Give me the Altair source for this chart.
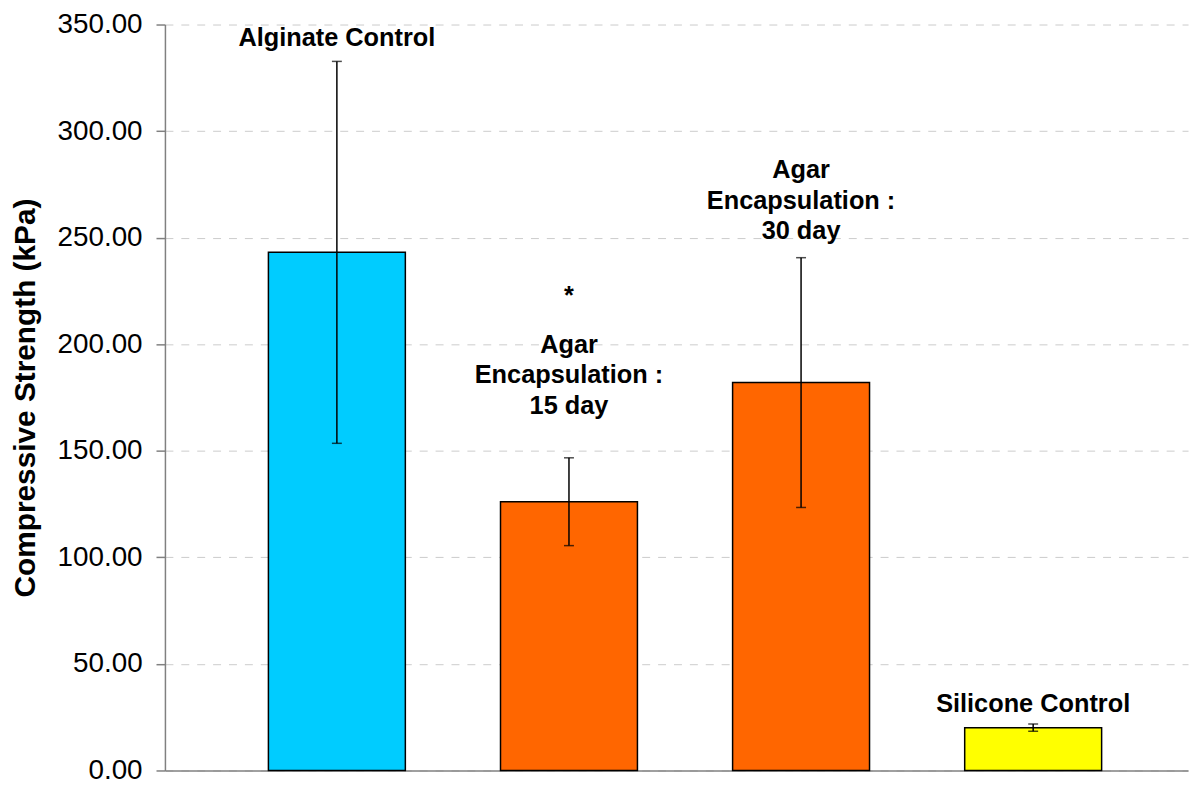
import altair as alt
import pandas as pd

categories = ["Alginate Control", "Agar Encapsulation : 15 day",
              "Agar Encapsulation : 30 day", "Silicone Control"]
means = [243.1, 126.1, 182.0, 20.1]
errors = [89.6, 20.6, 58.6, 1.7]
colors = ["#00CCFF", "#FF6600", "#FF6600", "#FFFF00"]

label_texts = ["Alginate Control", "*", "Agar\nEncapsulation :\n15 day",
               "Agar\nEncapsulation :\n30 day", "Silicone Control"]
label_cats = [categories[0], categories[1], categories[1], categories[2], categories[3]]
label_vals = [340.0, 218.7, 196.1, 278.1, 27.5]

y_ticks = [0, 50, 100, 150, 200, 250, 300, 350]

df = pd.DataFrame({"cat": categories, "mean": means, "err": errors})
df["lo"] = df["mean"] - df["err"]
df["hi"] = df["mean"] + df["err"]
labels = pd.DataFrame({"cat": label_cats, "txt": label_texts, "yv": label_vals})

FONT = "Liberation Sans"
TITLE = "Compressive Strength (kPa)"

xscale = alt.Scale(paddingInner=0.41, paddingOuter=0.409, align=0.545)
xaxis = alt.Axis(labels=False, ticks=False, title=None, grid=False,
                 domainColor="#808080", domainWidth=1.5)
yscale = alt.Scale(domain=[0, 350], nice=False)
yaxis = alt.Axis(values=y_ticks, format=".2f", title=TITLE,
                 labelFont=FONT, labelFontSize=28, labelColor="black",
                 labelPadding=14, tickSize=9, tickColor="#808080", tickWidth=1.5,
                 domainColor="#808080", domainWidth=1.5,
                 titleFont=FONT, titleFontSize=30, titleFontWeight="bold",
                 titleColor="black", titlePadding=17,
                 grid=True, gridColor="#cccccc", gridDash=[8, 8], gridWidth=1)


def xe():
    return alt.X("cat:N", sort=categories, scale=xscale, axis=xaxis)


def ye(field):
    return alt.Y(field, scale=yscale, axis=yaxis, title=TITLE)


bars = alt.Chart(df).mark_bar(stroke="black", strokeWidth=1.5).encode(
    x=xe(),
    y=ye("mean:Q"),
    color=alt.Color("cat:N", scale=alt.Scale(domain=categories, range=colors), legend=None),
)

rules = alt.Chart(df).mark_rule(color="black", strokeWidth=1.5).encode(
    x=xe(),
    y=ye("lo:Q"),
    y2="hi:Q",
)

caps_lo = alt.Chart(df).mark_tick(color="black", thickness=1.5, size=10).encode(
    x=xe(),
    y=ye("lo:Q"),
)
caps_hi = alt.Chart(df).mark_tick(color="black", thickness=1.5, size=10).encode(
    x=xe(),
    y=ye("hi:Q"),
)

text = alt.Chart(labels).mark_text(
    font=FONT, fontSize=25.5, fontWeight="bold", color="black", align="center",
    baseline="alphabetic", lineBreak="\n", lineHeight=31,
).encode(
    x=xe(),
    y=ye("yv:Q"),
    text="txt:N",
)

chart = alt.layer(bars, rules, caps_lo, caps_hi, text).properties(
    width=1030, height=751,
    background="white",
    autosize=alt.AutoSizeParams(type="none"),
    padding={"left": 158, "top": 14, "right": 2, "bottom": 13},
).configure_view(stroke=None)

chart.save("out.html", embed_options={"renderer": "svg", "actions": False})
